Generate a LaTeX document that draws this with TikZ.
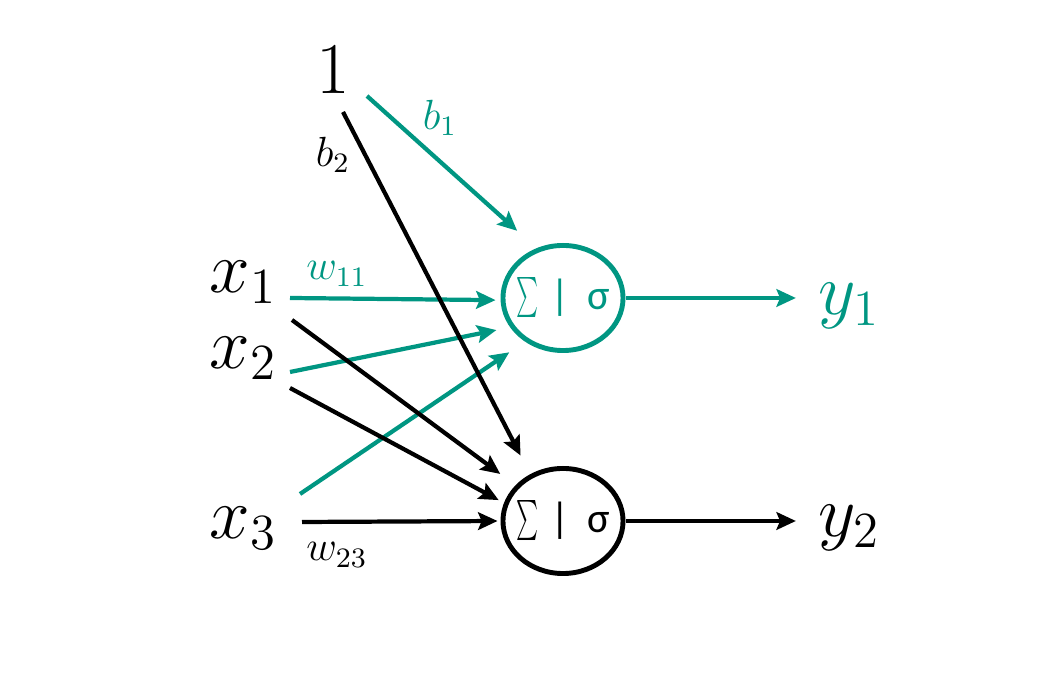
\documentclass[tikz,border=0pt]{standalone}
\usepackage{fontspec}
\usepackage{graphicx}
\usetikzlibrary{arrows.meta,shapes.geometric}
\newfontfamily\sigfont{Carlito}
\definecolor{netteal}{RGB}{0,150,130}
\newcommand{\sumsig}{\makebox[0pt]{\resizebox*{0.22cm}{0.4cm}{$\sum$}\hspace{0.12cm}{\sigfont |}\hspace{0.18cm}{\sigfont σ}}}

\begin{document}
\begin{tikzpicture}[x=0.01cm,y=-0.01cm,
    lbl/.style={font=\fontsize{20}{24}\selectfont},
    wlbl/.style={font=\fontsize{12}{14}\selectfont},
    neuron/.style={draw, ellipse, line width=1.4pt, minimum width=1.2cm, minimum height=1.05cm, inner sep=0pt, font=\fontsize{12}{14}\selectfont},
    conn/.style={line width=1.2pt, -{Stealth[length=5.5pt,width=5pt,inset=1pt]}}]
        \useasboundingbox (0,0) rectangle (1054,677);
        
        % Inputs and outputs
        \node[lbl] (one) at (333,70) {$1$};
        \node[lbl] (x1) at (243,282) {$x_1$};
        \node[lbl] (x2) at (243,358) {$x_2$};
        \node[lbl] (x3) at (243,528) {$x_3$};
        \node[lbl, netteal] (y1) at (849,306) {$y_1$};
        \node[lbl] (y2) at (849,528) {$y_2$};
        
        % Neurons
        \node[neuron, netteal] (n1) at (563,298) {\sumsig};
        \node[neuron] (n2) at (563,521) {\sumsig};
        
        % Start points of the weights
        \coordinate (b1s) at (367,96);
        \coordinate (b2s) at (343,112);
        \coordinate (x1a) at (290,298);
        \coordinate (x1b) at (292,320);
        \coordinate (x2a) at (290,372);
        \coordinate (x2b) at (290,388);
        \coordinate (x3a) at (300,494);
        \coordinate (x3b) at (302,522);
        
        % Weights into neuron 1
        \draw[conn, netteal, shorten >=0.26cm] (b1s) -- (n1.118);
        \draw[conn, netteal, shorten >=0.05cm] (x1a) -- (n1.182);
        \draw[conn, netteal, shorten >=0.14cm] (x2a) -- (n1.209);
        \draw[conn, netteal, shorten >=0.19cm] (x3a) -- (n1.229);
        
        % Weights into neuron 2
        \draw[conn, shorten >=0.21cm] (b2s) -- (n2.125);
        \draw[conn, shorten >=0.19cm] (x1b) -- (n2.143);
        \draw[conn, shorten >=0.06cm] (x2b) -- (n2.163);
        \draw[conn, shorten >=0.03cm] (x3b) -- (n2.180);
        
        % Outputs
        \draw[conn, netteal, shorten >=0.1cm] (n1.east) -- (n1.east -| y1.west);
        \draw[conn, shorten >=0.1cm] (n2.east) -- (n2.east -| y2.west);
        
        % Weight labels
        \node[wlbl, netteal] (b1) at (440,118) {$b_1$};
        \node[wlbl] (b2) at (333,155) {$b_2$};
        \node[wlbl, netteal] (w11) at (337,274) {$w_{11}$};
        \node[wlbl] (w23) at (337,555) {$w_{23}$};
        
    \end{tikzpicture}
\end{document}
